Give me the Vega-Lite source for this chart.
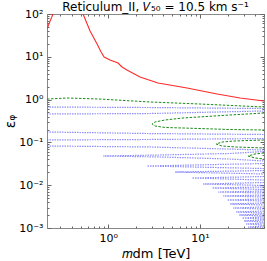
{
  "$schema": "https://vega.github.io/schema/vega-lite/v6.json",
  "autosize": {"type": "none"},
  "padding": {"left": 47, "top": 14, "right": 3, "bottom": 33},
  "width": 217,
  "height": 214,
  "background": "white",
  "title": {"text": "Reticulum_II, 𝑉₅₀ = 10.5 km s⁻¹", "font": "DejaVu Sans", "fontSize": 12, "fontWeight": "normal", "color": "#000", "offset": -6},
  "config": {
    "view": {"stroke": "#888", "strokeWidth": 1},
    "axis": {"grid": false, "domain": false, "labelFont": "DejaVu Sans", "labelFontSize": 11, "labelColor": "#000", "titleFont": "DejaVu Sans", "titleFontWeight": "normal", "titleColor": "#000", "tickColor": "#666", "labelOverlap": false, "labelFlush": false, "labelBound": false}
  },
  "datasets": {
    "red": [
      {"g": "a", "x": 0.215, "y": 44.7}, {"g": "a", "x": 0.232, "y": 68}, {"g": "a", "x": 0.25, "y": 100}, {"g": "a", "x": 0.256, "y": 124},
      {"g": "a", "x": 0.37, "y": 400},
      {"g": "a", "x": 0.519, "y": 124}, {"g": "a", "x": 0.532, "y": 100}, {"g": "a", "x": 0.634, "y": 40.1}, {"g": "a", "x": 0.756, "y": 19.9},
      {"g": "a", "x": 0.836, "y": 12.9}, {"g": "a", "x": 0.902, "y": 9.9}, {"g": "a", "x": 1.047, "y": 8.41}, {"g": "a", "x": 1.28, "y": 7.16},
      {"g": "a", "x": 1.415, "y": 5.78}, {"g": "a", "x": 1.6, "y": 4.92}, {"g": "a", "x": 2.22, "y": 3.37}, {"g": "a", "x": 3.49, "y": 2.44},
      {"g": "a", "x": 7.24, "y": 1.87}, {"g": "a", "x": 15.4, "y": 1.35}, {"g": "a", "x": 27.4, "y": 1.09}, {"g": "a", "x": 50, "y": 0.927}
    ],
    "green": [
      {"g": "top", "x": 0.215, "y": 1.03}, {"g": "top", "x": 0.356, "y": 1.09}, {"g": "top", "x": 0.815, "y": 1.03}, {"g": "top", "x": 2.86, "y": 0.879}, {"g": "top", "x": 10, "y": 0.789}, {"g": "top", "x": 50, "y": 0.671},
      {"g": "t1", "x": 50, "y": 0.486}, {"g": "t1", "x": 21.3, "y": 0.437}, {"g": "t1", "x": 6.55, "y": 0.372}, {"g": "t1", "x": 4.17, "y": 0.334}, {"g": "t1", "x": 3.24, "y": 0.3}, {"g": "t1", "x": 3.01, "y": 0.269}, {"g": "t1", "x": 3.24, "y": 0.242}, {"g": "t1", "x": 4.17, "y": 0.223}, {"g": "t1", "x": 6.55, "y": 0.217}, {"g": "t1", "x": 21.3, "y": 0.2}, {"g": "t1", "x": 50, "y": 0.195},
      {"g": "t2", "x": 50, "y": 0.114}, {"g": "t2", "x": 24.2, "y": 0.108}, {"g": "t2", "x": 17.4, "y": 0.102}, {"g": "t2", "x": 15.0, "y": 0.0918}, {"g": "t2", "x": 17.4, "y": 0.0824}, {"g": "t2", "x": 24.2, "y": 0.0782}, {"g": "t2", "x": 50, "y": 0.074},
      {"g": "t3", "x": 50, "y": 0.0565}, {"g": "t3", "x": 39.9, "y": 0.0536}, {"g": "t3", "x": 33.5, "y": 0.0481}, {"g": "t3", "x": 39.9, "y": 0.0432}, {"g": "t3", "x": 50, "y": 0.0409}
    ],
    "blue": [
      {"g": "b1", "x": 0.215, "y": 0.671}, {"g": "b1", "x": 2.86, "y": 0.653}, {"g": "b1", "x": 50, "y": 0.619},
      {"g": "t1u", "x": 0.215, "y": 0.461}, {"g": "t1u", "x": 2.86, "y": 0.473}, {"g": "t1u", "x": 50, "y": 0.542},
      {"g": "t1l", "x": 0.215, "y": 0.175}, {"g": "t1l", "x": 2.86, "y": 0.161}, {"g": "t1l", "x": 50, "y": 0.153},
      {"g": "t2u", "x": 0.215, "y": 0.114}, {"g": "t2u", "x": 2.86, "y": 0.117}, {"g": "t2u", "x": 50, "y": 0.123},
      {"g": "t2l", "x": 0.215, "y": 0.0824}, {"g": "t2l", "x": 2.86, "y": 0.0782}, {"g": "t2l", "x": 50, "y": 0.0664},
      {"g": "t3", "x": 50, "y": 0.0612}, {"g": "t3", "x": 21.3, "y": 0.0551}, {"g": "t3", "x": 3.67, "y": 0.0508}, {"g": "t3", "x": 0.879, "y": 0.0481}, {"g": "t3", "x": 3.67, "y": 0.0456}, {"g": "t3", "x": 21.3, "y": 0.0409}, {"g": "t3", "x": 50, "y": 0.0367},
      {"g": "t4", "x": 50, "y": 0.0321}, {"g": "t4", "x": 2.65, "y": 0.0281}, {"g": "t4", "x": 50, "y": 0.0245},
      {"g": "t5", "x": 50, "y": 0.022}, {"g": "t5", "x": 5.36, "y": 0.0203}, {"g": "t5", "x": 50, "y": 0.0183},
      {"g": "t6", "x": 50, "y": 0.01596}, {"g": "t6", "x": 8.2, "y": 0.01472}, {"g": "t6", "x": 50, "y": 0.01321},
      {"g": "t7", "x": 50, "y": 0.01156}, {"g": "t7", "x": 10.8, "y": 0.01067}, {"g": "t7", "x": 50, "y": 0.00984},
      {"g": "t8", "x": 50, "y": 0.00908}, {"g": "t8", "x": 13.6, "y": 0.00861}, {"g": "t8", "x": 50, "y": 0.00794},
      {"g": "t9", "x": 50, "y": 0.00731}, {"g": "t9", "x": 15.8, "y": 0.00693}, {"g": "t9", "x": 50, "y": 0.00658},
      {"g": "t10", "x": 50, "y": 0.0059}, {"g": "t10", "x": 17.9, "y": 0.0056}, {"g": "t10", "x": 50, "y": 0.0053},
      {"g": "t11", "x": 50, "y": 0.00476}, {"g": "t11", "x": 19.8, "y": 0.00451}, {"g": "t11", "x": 50, "y": 0.00428},
      {"g": "t12", "x": 50, "y": 0.00384}, {"g": "t12", "x": 21.3, "y": 0.00364}, {"g": "t12", "x": 50, "y": 0.00345},
      {"g": "t13", "x": 50, "y": 0.0031}, {"g": "t13", "x": 23.0, "y": 0.00293}, {"g": "t13", "x": 50, "y": 0.00278},
      {"g": "t14", "x": 50, "y": 0.00249}, {"g": "t14", "x": 24.8, "y": 0.00237}, {"g": "t14", "x": 50, "y": 0.00224},
      {"g": "t15", "x": 50, "y": 0.00212}, {"g": "t15", "x": 26.7, "y": 0.00201}, {"g": "t15", "x": 50, "y": 0.00191},
      {"g": "t16", "x": 50, "y": 0.00181}, {"g": "t16", "x": 28.8, "y": 0.00171}, {"g": "t16", "x": 50, "y": 0.00162},
      {"g": "t17", "x": 50, "y": 0.00154}, {"g": "t17", "x": 30.3, "y": 0.00146}, {"g": "t17", "x": 50, "y": 0.00138},
      {"g": "t18", "x": 50, "y": 0.00131}, {"g": "t18", "x": 31.8, "y": 0.00124}, {"g": "t18", "x": 50, "y": 0.00117},
      {"g": "t19", "x": 50, "y": 0.00111}, {"g": "t19", "x": 33.5, "y": 0.00105}, {"g": "t19", "x": 50, "y": 0.001},
      {"g": "t20", "x": 50, "y": 0.000948}, {"g": "t20", "x": 35.2, "y": 0.000897}, {"g": "t20", "x": 50, "y": 0.000851}
    ]
  },
  "layer": [
    {
      "data": {"name": "red"},
      "mark": {"type": "line", "color": "#ff2a2a", "strokeWidth": 1.1, "clip": true},
      "encoding": {
        "x": {"field": "x", "type": "quantitative", "scale": {"type": "log", "domain": [0.215, 50], "nice": false},
          "axis": {"orient": "bottom", "title": "𝑚dm [TeV]", "titleFontSize": 13, "titlePadding": 2,
            "values": [0.3, 0.4, 0.5, 0.6, 0.7, 0.8, 0.9, 1, 2, 3, 4, 5, 6, 7, 8, 9, 10, 20, 30, 40, 50],
            "labelExpr": "datum.value == 1 ? '10⁰' : datum.value == 10 ? '10¹' : ''",
            "tickSize": {"condition": {"test": "datum.value == 1 || datum.value == 10", "value": -4}, "value": -2},
            "labelPadding": 8}},
        "y": {"field": "y", "type": "quantitative", "scale": {"type": "log", "domain": [0.001, 100], "nice": false},
          "axis": {"orient": "left", "title": "εᵩ", "titleFontSize": 14, "titlePadding": 1,
            "values": [0.001, 0.002, 0.003, 0.004, 0.005, 0.006, 0.007, 0.008, 0.009, 0.01, 0.02, 0.03, 0.04, 0.05, 0.06, 0.07, 0.08, 0.09, 0.1, 0.2, 0.3, 0.4, 0.5, 0.6, 0.7, 0.8, 0.9, 1, 2, 3, 4, 5, 6, 7, 8, 9, 10, 20, 30, 40, 50, 60, 70, 80, 90, 100],
            "labelExpr": "datum.value == 0.001 ? '10⁻³' : datum.value == 0.01 ? '10⁻²' : datum.value == 0.1 ? '10⁻¹' : datum.value == 1 ? '10⁰' : datum.value == 10 ? '10¹' : datum.value == 100 ? '10²' : ''",
            "tickSize": {"condition": {"test": "datum.value == 0.001 || datum.value == 0.01 || datum.value == 0.1 || datum.value == 1 || datum.value == 10 || datum.value == 100", "value": -4}, "value": -2},
            "labelPadding": 8}},
        "order": {"value": null}
      }
    },
    {
      "data": {"name": "green"},
      "mark": {"type": "line", "color": "#1a8a1a", "strokeWidth": 1, "strokeDash": [2.5, 1.5], "clip": true},
      "encoding": {
        "x": {"field": "x", "type": "quantitative",
          "axis": {"orient": "top", "title": null, "labels": false,
            "values": [0.3, 0.4, 0.5, 0.6, 0.7, 0.8, 0.9, 1, 2, 3, 4, 5, 6, 7, 8, 9, 10, 20, 30, 40, 50],
            "tickSize": {"condition": {"test": "datum.value == 1 || datum.value == 10", "value": -4}, "value": -2}}},
        "y": {"field": "y", "type": "quantitative",
          "axis": {"orient": "right", "title": null, "labels": false,
            "values": [0.001, 0.002, 0.003, 0.004, 0.005, 0.006, 0.007, 0.008, 0.009, 0.01, 0.02, 0.03, 0.04, 0.05, 0.06, 0.07, 0.08, 0.09, 0.1, 0.2, 0.3, 0.4, 0.5, 0.6, 0.7, 0.8, 0.9, 1, 2, 3, 4, 5, 6, 7, 8, 9, 10, 20, 30, 40, 50, 60, 70, 80, 90, 100],
            "tickSize": {"condition": {"test": "datum.value == 0.001 || datum.value == 0.01 || datum.value == 0.1 || datum.value == 1 || datum.value == 10 || datum.value == 100", "value": -4}, "value": -2}}},
        "detail": {"field": "g"},
        "order": {"value": null}
      }
    },
    {
      "data": {"name": "blue"},
      "mark": {"type": "line", "color": "#6a6aff", "strokeWidth": 1.2, "strokeDash": [1.5, 1], "opacity": 0.75, "clip": true},
      "encoding": {
        "x": {"field": "x", "type": "quantitative", "axis": null},
        "y": {"field": "y", "type": "quantitative", "axis": null},
        "detail": {"field": "g"},
        "order": {"value": null}
      }
    }
  ],
  "resolve": {"axis": {"x": "independent", "y": "independent"}}
}
